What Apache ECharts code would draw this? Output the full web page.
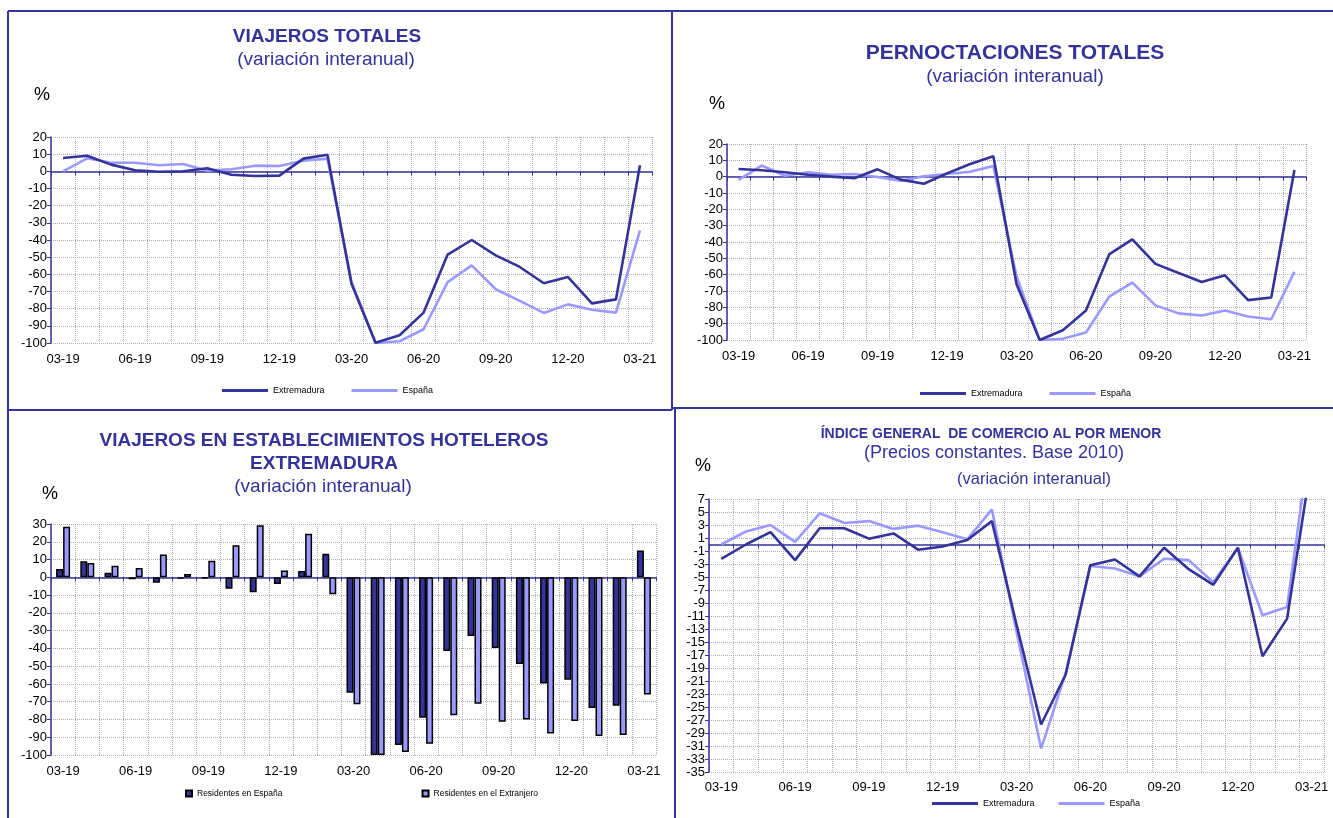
<!DOCTYPE html>
<html>
<head>
<meta charset="utf-8">
<script src="https://cdn.jsdelivr.net/npm/echarts@6/dist/echarts.min.js"></script>
<style>
html,body{margin:0;padding:0;background:#fff;}
#c{width:1333px;height:818px;}
</style>
</head>
<body>
<div id="c"></div>
<script>
// ---------- DATA ----------
const categories = ['03-19','04-19','05-19','06-19','07-19','08-19','09-19','10-19','11-19','12-19','01-20','02-20','03-20','04-20','05-20','06-20','07-20','08-20','09-20','10-20','11-20','12-20','01-21','02-21','03-21'];

const viajerosExtremadura = [7.8, 9.1, 3.9, 0.6, -0.2, 0.0, 1.8, -2.0, -2.7, -2.5, 7.4, 9.7, -65.5, -99.8, -95.5, -82.3, -48.5, -40.0, -49.0, -55.7, -65.2, -61.5, -76.9, -74.6, 3.5];
const viajerosEspana      = [0.0, 7.6, 5.0, 5.0, 3.5, 4.3, 0.4, 1.2, 3.3, 3.1, 6.2, 7.4, -64.5, -100.0, -99.0, -92.0, -64.5, -54.8, -68.7, -75.5, -82.5, -77.5, -80.6, -82.3, -34.4];

const pernoctExtremadura  = [4.7, 3.9, 2.7, 1.2, 0.0, -1.0, 4.5, -1.8, -4.3, 2.0, 7.8, 12.5, -65.7, -100.0, -94.0, -82.0, -47.6, -38.4, -53.4, -59.0, -64.5, -60.4, -75.6, -74.0, 4.1];
const pernoctEspana       = [-2.0, 6.8, 0.6, 2.7, 1.2, 1.6, -0.2, -2.5, 0.3, 1.6, 3.0, 6.5, -61.0, -100.0, -99.3, -95.4, -73.5, -64.9, -78.8, -83.7, -85.0, -82.0, -85.6, -87.3, -58.3];

const hotelResEspana      = [4.7, 9.0, 2.6, -1.1, -3.0, -0.7, -0.5, -6.4, -8.4, -3.7, 3.6, 13.3, -64.9, -100.0, -94.4, -79.0, -41.5, -33.0, -39.8, -48.8, -59.8, -57.6, -73.5, -72.3, 15.1];
const hotelResExtranjero  = [28.4, 8.0, 6.5, 5.2, 12.9, 1.9, 9.3, 18.1, 29.3, 3.9, 24.5, -9.5, -71.4, -100.0, -98.3, -93.6, -77.6, -71.2, -81.3, -80.0, -87.9, -80.9, -89.3, -88.8, -66.0];

const comercioExtremadura = [-2.2, 0.0, 1.9, -2.4, 2.5, 2.5, 0.9, 1.7, -0.8, -0.3, 0.7, 3.6, -12.3, -27.7, -20.0, -3.2, -2.3, -4.9, -0.5, -3.8, -6.2, -0.5, -17.2, -11.4, 13.0];
const comercioEspana      = [0.0, 2.0, 3.0, 0.4, 4.8, 3.3, 3.6, 2.4, 2.9, 1.9, 0.8, 5.4, -13.4, -31.4, -19.8, -3.3, -3.7, -4.9, -2.2, -2.4, -5.8, -0.5, -10.9, -9.6, 18.0];

// ---------- STYLE ----------
const NAVY = '#333399', LIGHT = '#9999FF';
const FONT = 'Liberation Sans, Arial, sans-serif';

const gridRects = [
  {left: 51, top: 137, width: 601, height: 206},
  {left: 727, top: 144, width: 579, height: 196},
  {left: 51, top: 524, width: 605, height: 231},
  {left: 709, top: 499, width: 615, height: 273}
];
const yRanges = [
  {min: -100, max: 20, interval: 10},
  {min: -100, max: 20, interval: 10},
  {min: -100, max: 30, interval: 10},
  {min: -35, max: 7, interval: 2}
];
const labelMargins = [10, 10, 10, 9];

const grids = [], xAxes = [], yAxes = [];
gridRects.forEach((r, i) => {
  grids.push(Object.assign({containLabel: false}, r));
  // label axis (bottom)
  xAxes.push({
    type: 'category', gridIndex: i, data: categories, position: 'bottom',
    boundaryGap: true,
    axisLine: {show: false, onZero: false},
    axisTick: {show: false},
    axisLabel: {interval: 2, color: '#000', fontSize: 13, fontFamily: FONT, margin: labelMargins[i]},
    splitLine: {show: true, interval: 0, lineStyle: {color: '#b0b0b0', type: 'dotted', width: 1}}
  });
  // zero line axis
  xAxes.push({
    type: 'category', gridIndex: i, data: categories, position: 'bottom',
    boundaryGap: true,
    axisLine: {show: true, onZero: true, lineStyle: {color: NAVY, width: 1.5}},
    axisTick: {show: true, interval: 0, length: 4, lineStyle: {color: NAVY, width: 1}},
    axisLabel: {show: false},
    splitLine: {show: false}
  });
  yAxes.push({
    type: 'value', gridIndex: i,
    min: yRanges[i].min, max: yRanges[i].max, interval: yRanges[i].interval,
    axisLine: {show: true, lineStyle: {color: NAVY, width: 1.5}},
    axisTick: {show: true, length: 4, lineStyle: {color: NAVY}},
    axisLabel: {color: '#000', fontSize: 13, fontFamily: FONT, margin: 4},
    splitLine: {show: true, lineStyle: {color: '#b0b0b0', type: 'dotted', width: 1}}
  });
});

function lineSeries(name, data, gi, color) {
  return {
    name, type: 'line', data, xAxisIndex: gi * 2, yAxisIndex: gi,
    showSymbol: false, symbol: 'none', smooth: false,
    lineStyle: {color, width: 2.6}, itemStyle: {color},
    animation: false, z: color === NAVY ? 4 : 3
  };
}
function barSeries(name, data, gi, color) {
  return {
    name, type: 'bar', data, xAxisIndex: gi * 2, yAxisIndex: gi,
    barWidth: 7, barGap: '0%',
    itemStyle: {color, borderColor: '#000', borderWidth: 1.5},
    animation: false
  };
}

const series = [
  lineSeries('España', viajerosEspana, 0, LIGHT),
  lineSeries('Extremadura', viajerosExtremadura, 0, NAVY),
  lineSeries('España', pernoctEspana, 1, LIGHT),
  lineSeries('Extremadura', pernoctExtremadura, 1, NAVY),
  barSeries('Residentes en España', hotelResEspana, 2, NAVY),
  barSeries('Residentes en el Extranjero', hotelResExtranjero, 2, LIGHT),
  lineSeries('España', comercioEspana, 3, LIGHT),
  lineSeries('Extremadura', comercioExtremadura, 3, NAVY)
];

function lineLegend(left, top, gap) {
  return {
    left, top, orient: 'horizontal', icon: 'rect', itemWidth: 46, itemHeight: 3, itemGap: gap,
    selectedMode: false,
    data: [{name: 'Extremadura', itemStyle: {color: NAVY}}, {name: 'España', itemStyle: {color: LIGHT}}],
    textStyle: {fontSize: 9, color: '#000', fontFamily: FONT}
  };
}
const legends = [
  lineLegend(217, 381, 27),
  lineLegend(915, 384, 27),
  {
    left: 180, top: 784, icon: 'rect', itemWidth: 6, itemHeight: 6, itemGap: 139, selectedMode: false,
    data: ['Residentes en España', 'Residentes en el Extranjero'],
    textStyle: {fontSize: 8.5, color: '#000', fontFamily: FONT}
  },
  lineLegend(927, 794, 24)
];

function txt(text, x, y, size, bold, align) {
  return {
    type: 'text', x, y, silent: true,
    style: {
      text, fill: NAVY, fontSize: size, fontWeight: bold ? 'bold' : 'normal', fontFamily: FONT,
      textAlign: align || 'center', textVerticalAlign: 'middle'
    }
  };
}
function pct(x, y) {
  return {type: 'text', x, y, silent: true,
    style: {text: '%', fill: '#000', fontSize: 18, fontFamily: FONT, textAlign: 'center', textVerticalAlign: 'middle'}};
}
function ln(x1, y1, x2, y2) {
  return {type: 'line', silent: true, shape: {x1, y1, x2, y2}, style: {stroke: NAVY, lineWidth: 2}};
}

const graphics = [
  // borders
  ln(8, 11, 1333, 11),
  ln(8, 11, 8, 818),
  ln(672, 11, 672, 410),
  ln(675, 408, 675, 818),
  ln(8, 410, 672, 410),
  ln(672, 408, 1333, 408),
  // panel 1
  txt('VIAJEROS TOTALES', 327, 37, 19, true),
  txt('(variación interanual)', 326, 60, 19, false),
  pct(42, 95),
  // panel 2
  txt('PERNOCTACIONES TOTALES', 1015, 53, 21, true),
  txt('(variación interanual)', 1015, 77, 19, false),
  pct(717, 104),
  // panel 3
  txt('VIAJEROS EN ESTABLECIMIENTOS HOTELEROS', 324, 441, 19, true),
  txt('EXTREMADURA', 324, 464, 19, true),
  txt('(variación interanual)', 323, 487, 19, false),
  pct(50, 494),
  // panel 4
  txt('ÍNDICE GENERAL  DE COMERCIO AL POR MENOR', 991, 434, 14, true),
  txt('(Precios constantes. Base 2010)', 994, 453, 18, false),
  pct(703, 466),
  txt('(variación interanual)', 1034, 479, 16.5, false)
];

const chart = echarts.init(document.getElementById('c'), null, {renderer: 'canvas'});
chart.setOption({
  backgroundColor: '#fff',
  animation: false,
  grid: grids,
  xAxis: xAxes,
  yAxis: yAxes,
  legend: legends,
  series,
  graphic: graphics
});
</script>
</body>
</html>
